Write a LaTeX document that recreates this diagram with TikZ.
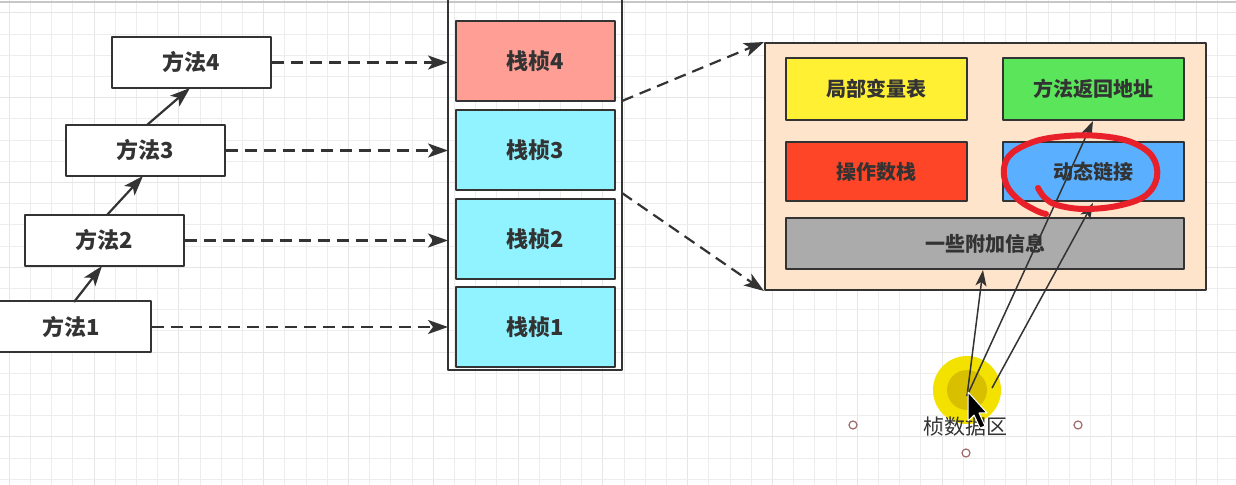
\documentclass[tikz,border=0pt]{standalone}
\usepackage{fontspec}
\setmainfont{Noto Sans CJK SC}
\usetikzlibrary{arrows.meta}
\definecolor{dgray}{HTML}{333333}
\definecolor{gridc}{HTML}{EDEDED}
\definecolor{gridm}{HTML}{E6E6E6}
\definecolor{frmred}{HTML}{FF9E94}
\definecolor{frmcyan}{HTML}{91F3FF}
\definecolor{peach}{HTML}{FFE4CC}
\definecolor{lvyellow}{HTML}{FFF033}
\definecolor{ragreen}{HTML}{5BE55B}
\definecolor{osred}{HTML}{FF4528}
\definecolor{dlblue}{HTML}{5AAFFF}
\definecolor{exgray}{HTML}{ABABAB}
\definecolor{penred}{HTML}{E8202A}
\definecolor{hlyellow}{HTML}{F3E200}
\definecolor{hldark}{HTML}{D8C000}
\definecolor{handle}{HTML}{A06868}

\begin{document}
\begin{tikzpicture}[
  x=0.5pt, y=-0.5pt,
  line join=round,
  box/.style={draw=dgray, line width=1pt, inner sep=0pt, text=dgray,
    font=\fontsize{11}{13}\selectfont\bfseries},
  meth/.style={box, fill=white, minimum width=79.5pt, minimum height=25.5pt},
  frm/.style={box, minimum width=79.5pt, minimum height=40pt},
  part/.style={box, minimum width=90.5pt, minimum height=31pt,
    font=\fontsize{10}{12}\selectfont\bfseries},
  call/.style={draw=dgray, line width=1.1pt, -{Stealth[length=10pt, width=7pt, inset=2.5pt]}},
  link/.style={call, dash pattern=on 6pt off 3.5pt},
  ptr/.style={draw=dgray, line width=0.75pt, -{Stealth[length=8pt, width=5.5pt, inset=2pt]}},
]
\useasboundingbox (0,0) rectangle (1236,485);
\clip (0,0) rectangle (1236,485);

% background grid of the editor
\fill[white] (0,0) rectangle (1236,485);
\foreach \k in {0,...,58} {
  \pgfmathsetmacro\gx{9.3+21.2*\k}
  \pgfmathtruncatemacro\km{mod(\k,4)}
  \ifnum\km=0 \draw[gridm, line width=0.5pt] (\gx,0) -- (\gx,485);
  \else \draw[gridc, line width=0.5pt] (\gx,0) -- (\gx,485); \fi
}
\foreach \k in {0,...,22} {
  \pgfmathsetmacro\gy{13+21.2*\k}
  \pgfmathtruncatemacro\km{mod(\k,4)}
  \ifnum\km=0 \draw[gridm, line width=0.5pt] (0,\gy) -- (1236,\gy);
  \else \draw[gridc, line width=0.5pt] (0,\gy) -- (1236,\gy); \fi
}
\draw[black!22, line width=1pt] (0,2) -- (1236,2);

% methods
\node[meth] (m4) at (191.5,62.5) {方法4};
\node[meth] (m3) at (145,150.5) {方法3};
\node[meth] (m2) at (104,240.5) {方法2};
\node[meth] (m1) at (71.5,327) {方法1};
\draw[call] (74,302) -- (102,266);
\draw[call] (107,215) -- (143,176);
\draw[call] (147,125) -- (190,88);

% stack with its frames
\draw[dgray, line width=1pt] (448,-10) -- (448,370) -- (622,370) -- (622,-10);
\coordinate (s4) at (622,101);
\coordinate (s3) at (622,193);
\node[frm, fill=frmred] (f4) at (535.5,61.5) {栈桢4};
\node[frm, fill=frmcyan] (f3) at (535.5,150) {栈桢3};
\node[frm, fill=frmcyan] (f2) at (535.5,239) {栈桢2};
\node[frm, fill=frmcyan] (f1) at (535.5,327) {栈桢1};
\draw[link] (m4.east) -- (448,62.5);
\draw[link] (m3.east) -- (448,150.5);
\draw[link] (m2.east) -- (448,240.5);
\draw[link] (m1.east) -- (448,327);

% inside of one frame
\node[box, fill=peach, minimum width=220.5pt, minimum height=123.5pt] (fr) at (985.5,166.5) {};
\node[part, fill=lvyellow] (lv) at (876.5,89) {局部变量表};
\node[part, fill=ragreen] (ra) at (1093.5,89) {方法返回地址};
\node[part, fill=osred, minimum height=29.5pt] (os) at (876.5,171.5) {操作数栈};
\node[part, fill=dlblue, minimum height=29.5pt] (dl) at (1093.5,171.5) {动态链接};
\node[part, fill=exgray, minimum width=199pt, minimum height=25.5pt] (ex) at (985,243.5) {一些附加信息};
\draw[link] (s4) -- (fr.north west);
\draw[link] (s3) -- (fr.south west);

% pointer spot and label
\fill[hlyellow] (967,390) circle (17pt);
\fill[hldark] (967,390) circle (10pt);
\coordinate (dp) at (967,396);
\coordinate (dq) at (992,388);
\draw[ptr] (dp) -- (983,270);
\draw[ptr] (dp) -- (1093,121);
\draw[ptr] (dq) -- (1093,203);
\node[text=dgray, font=\fontsize{10.5}{12}\selectfont] (data) at (965,427) {桢数据区};
\foreach \hx/\hy in {853/425, 1078/425, 966/453}
  \draw[handle, fill=white, line width=0.6pt] (\hx,\hy) circle (2pt);

% cursor
\filldraw[fill=black, draw=white, line width=0.5pt]
  (968,392) -- (968,421) -- (974,415) -- (980,428) -- (985,426) -- (979,413) -- (987,413) -- cycle;

% red pen mark round the dynamic link
\draw[penred, line width=3pt, line cap=round] plot[smooth, tension=0.6] coordinates {
  (1038,188) (1045,198) (1057,205) (1083,209) (1117,206) (1145,196) (1157,177)
  (1152,156) (1131,142) (1100,136) (1067,136) (1036,141) (1012,153) (1004,168)
  (1007,186) (1020,201) (1037,211) (1046,214)};
\end{tikzpicture}
\end{document}
